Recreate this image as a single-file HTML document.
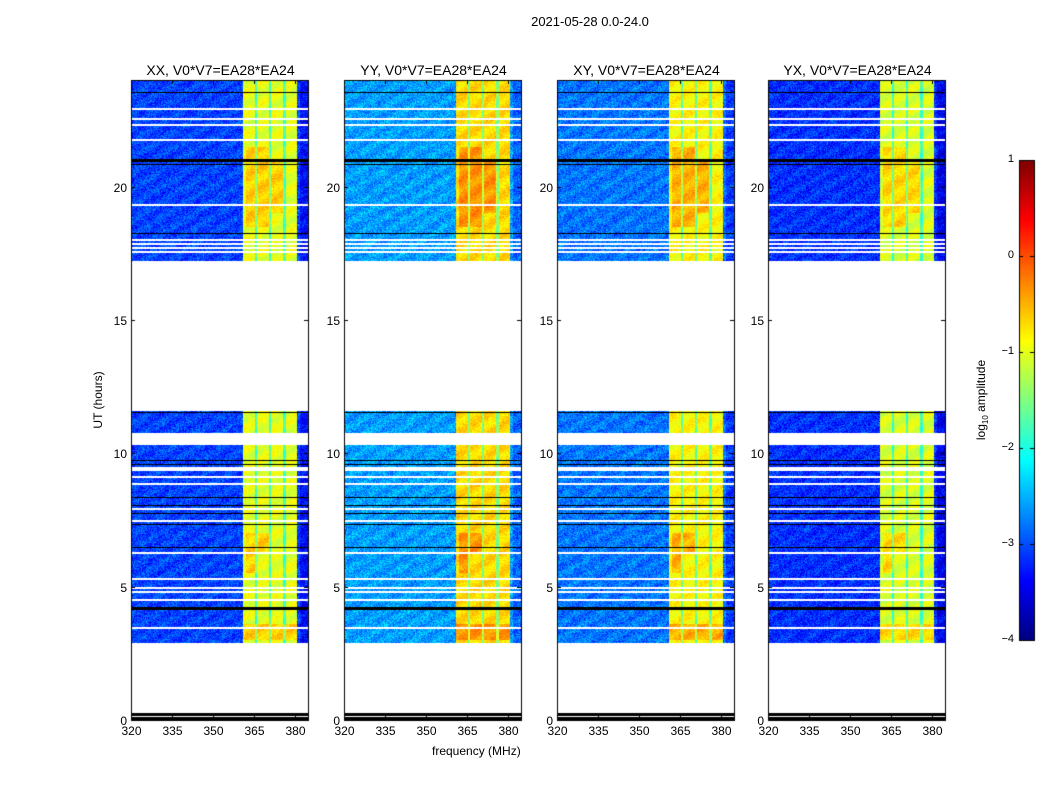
<!DOCTYPE html>
<html><head><meta charset="utf-8"><style>
html,body{margin:0;padding:0;background:#fff;}
body{width:1050px;height:800px;position:relative;overflow:hidden;font-family:"Liberation Sans","DejaVu Sans",sans-serif;}
.t{position:absolute;white-space:nowrap;color:#000;}
canvas{position:absolute;left:0;top:0;}
</style></head><body>
<canvas id="c" width="1050" height="800"></canvas>
<div class="t" style="left:0;width:1180px;text-align:center;top:14px;font-size:13px;">2021-05-28 0.0-24.0</div>
<div class="t" style="left:432px;top:744px;font-size:12px;">frequency (MHz)</div>
<div class="t" style="left:98px;top:400px;font-size:12px;transform:translate(-50%,-50%) rotate(-90deg);">UT (hours)</div>
<div class="t" style="left:982px;top:400px;font-size:12px;transform:translate(-50%,-50%) rotate(-90deg);">log<sub style="font-size:8px">10</sub> amplitude</div>
<div id="labels"></div>
<script>
// ---- data ----
const panelTitles = ["XX, V0*V7=EA28*EA24","YY, V0*V7=EA28*EA24","XY, V0*V7=EA28*EA24","YX, V0*V7=EA28*EA24"];
const panelBase = [-3.05, -2.6, -2.8, -3.15];
const panelBand = [-1.0, -0.7, -0.85, -1.05];
const timeBlocks = [[2.9,4.15],[4.25,9.35],[9.5,10.3],[10.75,11.6],[17.2,23.95]];
const whiteRows = [22.9,22.55,22.3,21.75,19.3,18.0,17.85,17.7,17.55,9.45,9.1,8.85,7.9,7.45,6.25,5.3,4.95,4.8,4.5,3.45];
const blackRows = [23.55,20.85,18.25,11.55,9.75,9.6,8.35,8.05,7.75,7.35,6.5];
const thickBars = [[0.0,0.12],[0.17,0.27],[4.12,4.25],[20.95,21.05]];
const bandEdges = [361, 380.8];
const bandLines = [365.8, 370.8, 376.2];
const hotSpots = [[362,366,5.5,7],[366,371,6.3,7.0],[362,371,18.5,21.5],[361,381,3.0,3.6],[371,376,19,21]];
const xTicks = [320,335,350,365,380];
const yTicks = [0,5,10,15,20];
const cbTicks = [1,0,-1,-2,-3,-4];
// ---- layout ----
const panelX = [131,344,557,768];
const PW = 177, PT = 80, PB = 720;
const fMin = 320, fMax = 384.8, tMin = 0, tMax = 24;
const xs = (i,f)=>panelX[i] + (f-fMin)/(fMax-fMin)*PW;
const ys = t => PB - (t-tMin)/(tMax-tMin)*(PB-PT);
function jet(v){
  const c=x=>Math.max(0,Math.min(1,x));
  return [c(1.5-Math.abs(4*v-3)),c(1.5-Math.abs(4*v-2)),c(1.5-Math.abs(4*v-1))].map(x=>Math.round(x*255));
}
const val2n = v => (v+4)/5;
function hash(a,b,c){let h=(a*374761393+b*668265263+c*2147483647)|0;h=(h^(h>>>13))*1274126177|0;return ((h^(h>>>16))>>>0)/4294967296;}
const cv=document.getElementById('c'), ctx=cv.getContext('2d');
const img=ctx.createImageData(1050,800);
for(let i=0;i<4;i++){
  for(let py=PT;py<PB;py++){
    const t = tMax - (py-PT+0.5)/(PB-PT)*(tMax-tMin);
    if(!timeBlocks.some(b=>t>=b[0]&&t<=b[1])) continue;
    for(let px=panelX[i];px<panelX[i]+PW;px++){
      const f = fMin + (px-panelX[i]+0.5)/PW*(fMax-fMin);
      let v = panelBase[i] + (hash(px,py,i)-0.5)*0.7 + 0.1*Math.sin(px*0.25+py*0.4+i);
      if(f>=bandEdges[0]&&f<=bandEdges[1]){
        v = panelBand[i] + (hash(px,py,i+7)-0.5)*0.35 + 0.12*Math.sin(py*0.3+px*0.2);
        if(bandLines.some(l=>Math.abs(f-l)<0.45)) v -= 0.8;
        for(const h of hotSpots) if(f>=h[0]&&f<=h[1]&&t>=h[2]&&t<=h[3]) v+=0.35;
      }
      if(f>382) v -= 0.3;
      const n = Math.max(0,Math.min(1,val2n(v)));
      const col=jet(n), k=(py*1050+px)*4;
      img.data[k]=col[0];img.data[k+1]=col[1];img.data[k+2]=col[2];img.data[k+3]=255;
    }
  }
}
ctx.putImageData(img,0,0);
for(let i=0;i<4;i++){
  ctx.fillStyle='#fff';
  for(const t of whiteRows) ctx.fillRect(panelX[i],Math.round(ys(t))-1,PW,2);
  ctx.fillStyle='#000';
  for(const t of blackRows) ctx.fillRect(panelX[i],Math.round(ys(t)),PW,1);
  for(const b of thickBars) ctx.fillRect(panelX[i],Math.round(ys(b[1])),PW,Math.max(2,Math.round(ys(b[0])-ys(b[1]))));
}
const CBX=1019, CBW=15, CBT=160, CBB=640;
for(let py=CBT;py<CBB;py++){const c=jet(1-(py-CBT)/(CBB-CBT));ctx.fillStyle=`rgb(${c})`;ctx.fillRect(CBX,py,CBW,1);}
ctx.strokeStyle='#000';ctx.lineWidth=1;ctx.strokeRect(CBX+0.5,CBT+0.5,CBW,CBB-CBT);
const lab=document.getElementById('labels');
function addLabel(name,text,x,y,align,size){
  const d=document.createElement('div');d.className='t';
  
  
  d.textContent=text;d.style.fontSize=(size||12)+'px';d.style.top=(y-7)+'px';
  if(align==='c'){d.style.left=x+'px';d.style.transform='translateX(-50%)';}
  else {d.style.left=(x-60)+'px';d.style.width='60px';d.style.textAlign='right';}
  lab.appendChild(d);
}
const cbY=v=>CBB-(v+4)/5*(CBB-CBT);
for(const v of cbTicks){const y=cbY(v);ctx.beginPath();ctx.moveTo(CBX,y+0.5);ctx.lineTo(CBX+4,y+0.5);ctx.moveTo(CBX+CBW-4,y+0.5);ctx.lineTo(CBX+CBW,y+0.5);ctx.stroke();
  addLabel('colorbar-tick-label',v<0?'\u2212'+(-v):String(v),1014,y,'r',11);}
for(let i=0;i<4;i++){
  ctx.strokeStyle='#000';ctx.strokeRect(panelX[i]+0.5,PT+0.5,PW,PB-PT);
  ctx.beginPath();
  for(const f of xTicks){const x=Math.round(xs(i,f))+0.5;ctx.moveTo(x,PB);ctx.lineTo(x,PB-4);ctx.moveTo(x,PT);ctx.lineTo(x,PT+4);addLabel('x-tick-label',String(f),x,PB+11,'c');}
  for(const t of yTicks){const y=Math.round(ys(t))+0.5;ctx.moveTo(panelX[i],y);ctx.lineTo(panelX[i]+4,y);ctx.moveTo(panelX[i]+PW,y);ctx.lineTo(panelX[i]+PW-4,y);addLabel('y-tick-label',String(t),panelX[i]-4,y,'r');}
  ctx.stroke();
  addLabel('panel-title',panelTitles[i],panelX[i]+PW/2+1,PT-11,'c',14);
}
</script>
</body></html>
